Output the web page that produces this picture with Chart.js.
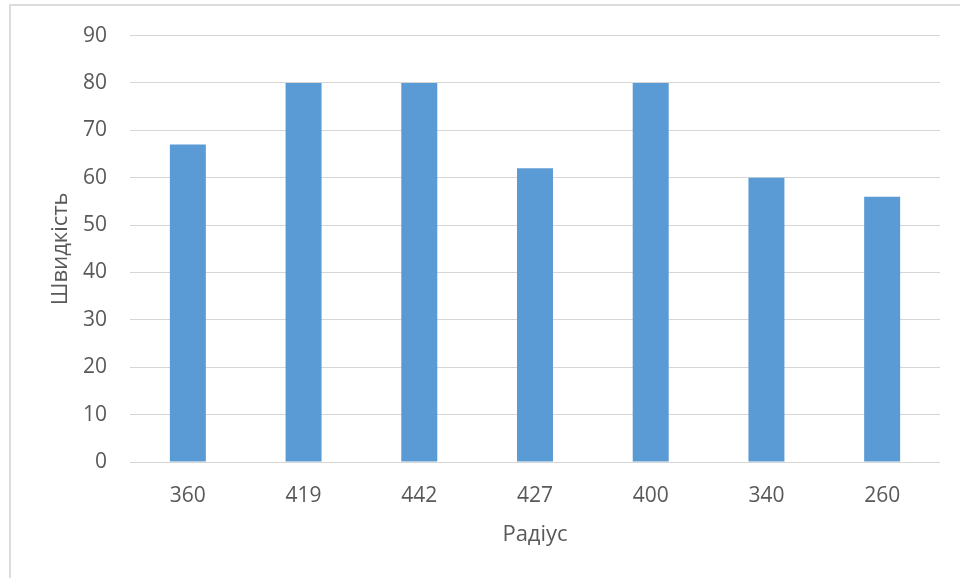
<!DOCTYPE html>
<html>
<head>
<meta charset="utf-8">
<script src="https://cdn.jsdelivr.net/npm/chart.js@4.4.0/dist/chart.umd.min.js"></script>
<style>
  html, body { margin: 0; padding: 0; background: #ffffff; }
  #wrap { position: relative; width: 960px; height: 578px; overflow: hidden; }
  #frame { position: absolute; left: 9px; top: 4px; width: 1200px; height: 1200px;
           border-left: 2px solid #dcdcdc; border-top: 2px solid #dcdcdc; box-sizing: border-box; }
  #c { position: absolute; left: 0; top: 0; }
</style>
</head>
<body>
<div id="wrap">
  <div id="frame"></div>
  <canvas id="c" width="960" height="578"></canvas>
</div>
<script>
const categories = ['360', '419', '442', '427', '400', '340', '260'];
const speedValues = [67, 80, 80, 62, 80, 60, 56];
const yTicks = [0, 10, 20, 30, 40, 50, 60, 70, 80, 90];
const xTitle = 'Радіус';
const yTitle = 'Швидкість';

const textColor = '#595959';
const fontFamily = "'Open Sans', 'Noto Sans', sans-serif";

new Chart(document.getElementById('c'), {
  type: 'bar',
  data: {
    labels: categories,
    datasets: [{
      data: speedValues,
      backgroundColor: '#5b9bd5',
      borderWidth: 0,
      categoryPercentage: 1,
      barPercentage: 0.311
    }]
  },
  options: {
    responsive: false,
    animation: false,
    devicePixelRatio: 1,
    layout: { padding: { left: 0, right: 20, top: 34, bottom: 0 } },
    plugins: { legend: { display: false }, tooltip: { enabled: false } },
    scales: {
      x: {
        grid: { display: false },
        border: { display: false },
        ticks: { color: textColor, font: { family: fontFamily, size: 21 }, padding: 13, maxRotation: 0 },
        title: { display: true, text: xTitle, color: textColor,
                 font: { family: fontFamily, size: 22 }, padding: { top: 0, bottom: 30 } },
        afterFit: (s) => { s.height = 116; }
      },
      y: {
        min: 0, max: 90,
        afterBuildTicks: (s) => { s.ticks = yTicks.map(v => ({ value: v })); },
        grid: { color: '#d6d6d6', lineWidth: 1, drawTicks: false },
        border: { display: false },
        ticks: { color: textColor, font: { family: fontFamily, size: 21 }, padding: 23 },
        title: { display: true, text: yTitle, color: textColor,
                 font: { family: fontFamily, size: 22 }, padding: { top: 48, bottom: 0 } },
        afterFit: (s) => { s.width = 130; }
      }
    }
  }
});
</script>
</body>
</html>
